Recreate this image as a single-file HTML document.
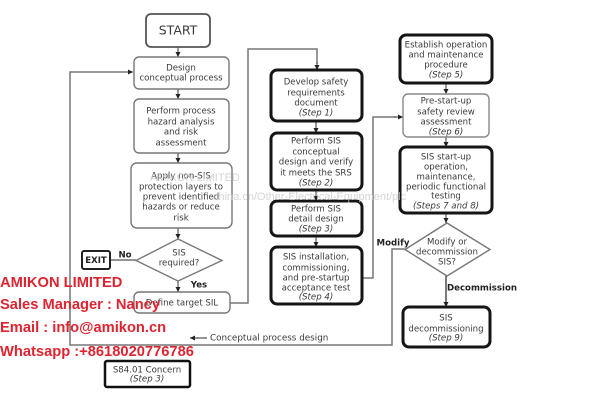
<!DOCTYPE html>
<html><head><meta charset="utf-8"><style>
html,body{margin:0;padding:0;background:#fff;}
svg{display:block;}
.t{font-family:"DejaVu Sans","Liberation Sans",sans-serif;font-size:8.6px;fill:#3a3a3a;text-anchor:middle;dominant-baseline:middle;}
.i{font-style:italic;}
.b{font-weight:bold;fill:#222;}
.thin{fill:#fff;stroke:#777;stroke-width:1.4;}
.thick{fill:#fff;stroke:#151515;stroke-width:3;}
.ln{fill:none;stroke:#555;stroke-width:1.2;}
.fr{fill:none;stroke:#777;stroke-width:1.5;}
.red{font-family:"Liberation Sans",sans-serif;font-weight:bold;font-size:14.7px;fill:#de2430;}
</style></head><body>
<svg width="600" height="405" viewBox="0 0 600 405" xmlns="http://www.w3.org/2000/svg">
<defs>
<marker id="a" viewBox="0 0 10 10" refX="10" refY="5" markerWidth="5" markerHeight="5" orient="auto" markerUnits="userSpaceOnUse"><path d="M0,0L10,5L0,10z" fill="#222"/></marker>
</defs>

<!-- frame / feedback loops -->
<polyline class="fr" points="405,249 392,249 392,345 70,345 70,72 127,72"/>
<line class="ln" x1="127" y1="72" x2="133" y2="72" marker-end="url(#a)"/>
<polyline class="fr" points="230,303 248,303 248,49 317,49 317,64"/>
<line class="ln" x1="317" y1="62" x2="317" y2="70" marker-end="url(#a)"/>
<polyline class="fr" points="362,278 373,278 373,117 396,117"/>
<line class="ln" x1="394" y1="117" x2="403" y2="117" marker-end="url(#a)"/>

<!-- left column arrows -->
<line class="ln" x1="178" y1="47" x2="178" y2="57" marker-end="url(#a)"/>
<line class="ln" x1="178" y1="89" x2="178" y2="99" marker-end="url(#a)"/>
<line class="ln" x1="178" y1="153" x2="178" y2="163" marker-end="url(#a)"/>
<line class="ln" x1="178" y1="228" x2="178" y2="239" marker-end="url(#a)"/>
<line class="ln" x1="178" y1="281" x2="178" y2="292" marker-end="url(#a)"/>
<line class="ln" x1="110" y1="260" x2="136" y2="260"/>

<!-- middle arrows -->
<line class="ln" x1="316" y1="121" x2="316" y2="133" marker-end="url(#a)"/>
<line class="ln" x1="316" y1="190" x2="316" y2="201" marker-end="url(#a)"/>
<line class="ln" x1="316" y1="236" x2="316" y2="247" marker-end="url(#a)"/>

<!-- right arrows -->
<line class="ln" x1="446" y1="83" x2="446" y2="94" marker-end="url(#a)"/>
<line class="ln" x1="446" y1="137" x2="446" y2="147" marker-end="url(#a)"/>
<line class="ln" x1="446" y1="213" x2="446" y2="223" marker-end="url(#a)"/>
<line class="ln" x1="446" y1="276" x2="446" y2="307" style="stroke:#222" marker-end="url(#a)"/>

<!-- conceptual arrow -->
<line class="ln" x1="207" y1="338" x2="190" y2="338" marker-end="url(#a)"/>
<text class="t" x="210" y="338" style="text-anchor:start;font-size:8.8px">Conceptual process design</text>

<!-- left column boxes -->
<rect x="146" y="14" width="64" height="33" rx="5" fill="#fff" stroke="#555" stroke-width="1.8"/>
<text class="t" x="178" y="31" style="font-size:12.5px">START</text>

<rect class="thin" x="134" y="57" width="95" height="32" rx="5"/>
<text class="t" x="181" y="68">Design</text>
<text class="t" x="181" y="78">conceptual process</text>

<rect class="thin" x="134" y="99" width="95" height="54" rx="5"/>
<text class="t" x="181" y="111">Perform process</text>
<text class="t" x="181" y="122">hazard analysis</text>
<text class="t" x="181" y="132">and risk</text>
<text class="t" x="181" y="143">assessment</text>

<rect class="thin" x="131" y="163" width="101" height="65" rx="6"/>
<text class="t" x="181" y="176">Apply non-SIS</text>
<text class="t" x="181" y="187">protection layers to</text>
<text class="t" x="181" y="197">prevent identified</text>
<text class="t" x="181" y="207">hazards or reduce</text>
<text class="t" x="181" y="218">risk</text>

<polygon class="thin" points="136,260.5 178,239 222,260.5 178,281"/>
<text class="t" x="179" y="253">SIS</text>
<text class="t" x="179" y="263">required?</text>

<rect x="82" y="251" width="28" height="18" rx="2" fill="#fff" stroke="#222" stroke-width="2"/>
<text class="t b" x="96" y="260.5">EXIT</text>
<text class="t b" x="125" y="255">No</text>
<text class="t b" x="199" y="285">Yes</text>

<rect class="thin" x="134" y="292" width="96" height="21" rx="5"/>
<text class="t" x="182" y="303">Define target SIL</text>

<rect x="105" y="361" width="85" height="26" rx="2" fill="#fff" stroke="#111" stroke-width="2.5"/>
<text class="t" x="147" y="370">S84.01 Concern</text>
<text class="t i" x="147" y="379">(Step 3)</text>

<!-- middle column -->
<rect class="thick" x="271" y="70" width="91" height="51" rx="6"/>
<text class="t" x="316" y="82">Develop safety</text>
<text class="t" x="316" y="93">requirements</text>
<text class="t" x="316" y="103">document</text>
<text class="t i" x="316" y="113">(Step 1)</text>

<rect class="thick" x="271" y="133" width="91" height="57" rx="6"/>
<text class="t" x="316" y="141">Perform SIS</text>
<text class="t" x="316" y="152">conceptual</text>
<text class="t" x="316" y="162">design and verify</text>
<text class="t" x="316" y="173">it meets the SRS</text>
<text class="t i" x="316" y="183">(Step 2)</text>

<rect class="thick" x="271" y="201" width="91" height="35" rx="6"/>
<text class="t" x="316" y="209">Perform SIS</text>
<text class="t" x="316" y="219">detail design</text>
<text class="t i" x="316" y="229">(Step 3)</text>

<rect class="thick" x="271" y="247" width="91" height="57" rx="6"/>
<text class="t" x="316" y="257">SIS installation,</text>
<text class="t" x="316" y="268">commissioning,</text>
<text class="t" x="316" y="278">and pre-startup</text>
<text class="t" x="316" y="288">acceptance test</text>
<text class="t i" x="316" y="297">(Step 4)</text>

<!-- right column -->
<rect class="thick" x="400" y="35" width="92" height="48" rx="6"/>
<text class="t" x="446" y="45">Establish operation</text>
<text class="t" x="446" y="55">and maintenance</text>
<text class="t" x="446" y="65">procedure</text>
<text class="t i" x="446" y="75">(Step 5)</text>

<rect class="thin" x="403" y="94" width="86" height="43" rx="5" style="stroke:#888"/>
<text class="t" x="446" y="101">Pre-start-up</text>
<text class="t" x="446" y="112">safety review</text>
<text class="t" x="446" y="122">assessment</text>
<text class="t i" x="446" y="132">(Step 6)</text>

<rect class="thick" x="400" y="147" width="92" height="66" rx="6"/>
<text class="t" x="446" y="157">SIS start-up</text>
<text class="t" x="446" y="167">operation,</text>
<text class="t" x="446" y="177">maintenance,</text>
<text class="t" x="446" y="187">periodic functional</text>
<text class="t" x="446" y="196">testing</text>
<text class="t i" x="446" y="206">(Steps 7 and 8)</text>

<polygon class="thin" points="405,249.5 447,223 490,249.5 447,276"/>
<text class="t" x="447" y="242">Modify or</text>
<text class="t" x="447" y="252">decommission</text>
<text class="t" x="447" y="262">SIS?</text>
<text class="t b" x="393" y="243">Modify</text>
<text class="t b" x="482" y="288">Decommission</text>

<rect class="thick" x="403" y="307" width="87" height="40" rx="6"/>
<text class="t" x="446" y="318">SIS</text>
<text class="t" x="446" y="329">decommissioning</text>
<text class="t i" x="446" y="338">(Step 9)</text>

<!-- faint watermark -->
<text x="150" y="181" style="font-family:'Liberation Sans',sans-serif;font-size:11px;fill:#c8c8c8;opacity:0.75">AMIKON LIMITED</text>
<text x="213" y="200" style="font-family:'Liberation Sans',sans-serif;font-size:11px;fill:#c8c8c8;opacity:0.75">china.cn/Other-Electrical-Equipment/plc</text>

<!-- red watermark -->
<text class="red" x="0" y="287">AMIKON LIMITED</text>
<text class="red" x="0" y="309">Sales Manager : Nancy</text>
<text class="red" x="0" y="332">Email : info@amikon.cn</text>
<text class="red" x="0" y="356">Whatsapp :+8618020776786</text>
</svg>
</body></html>
